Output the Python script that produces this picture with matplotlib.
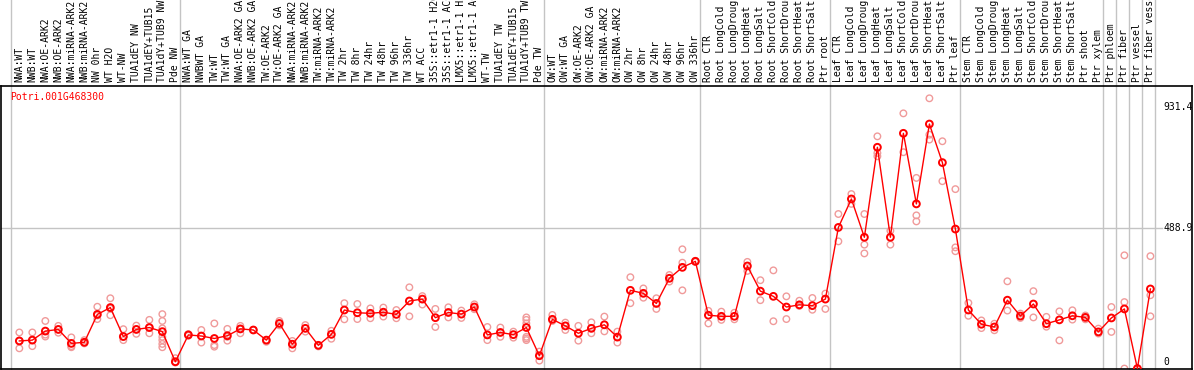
import numpy as np
import matplotlib
matplotlib.use('Agg')
import matplotlib.pyplot as plt
import matplotlib.transforms as mtransforms

# expression profile, Potri.001G468300

samples = ['NWA:WT', 'NWB:WT', 'NWA:OE-ARK2', 'NWB:OE-ARK2', 'NWA:miRNA-ARK2', 'NWB:miRNA-ARK2',
	'NW 0hr', 'WT H2O', 'WT-NW', 'TUA1dEY NW', 'TUA1dEY+TUB15', 'TUA1dY+TUB9 NW', 'Pde NW',
	'NWA:WT GA', 'NWBWT GA', 'TW:WT', 'TW:WT GA', 'NWA:OE-ARK2 GA', 'NWB:OE-ARK2 GA', 'TW:OE-ARK2',
	'TW:OE-ARK2 GA', 'NWA:miRNA-ARK2', 'NWB:miRNA-ARK2', 'TW:miRNA-ARK2', 'TW:miRNA-ARK2',
	'TW 2hr', 'TW 8hr', 'TW 24hr', 'TW 48hr', 'TW 96hr', 'TW 336hr', 'WT ACC',
	'35S::etr1-1 H2O', '35S::etr1-1 ACC', 'LMX5::etr1-1 H2O', 'LMX5::etr1-1 ACC', 'WT-TW',
	'TUA1dEY TW', 'TUA1dEY+TUB15', 'TUA1dY+TUB9 TW', 'Pde TW',
	'OW:WT', 'OW:WT GA', 'OW:OE-ARK2', 'OW:OE-ARK2 GA', 'OW:miRNA-ARK2', 'OW:miRNA-ARK2',
	'OW 2hr', 'OW 8hr', 'OW 24hr', 'OW 48hr', 'OW 96hr', 'OW 336hr',
	'Root CTR', 'Root LongCold', 'Root LongDrought', 'Root LongHeat', 'Root LongSalt',
	'Root ShortCold', 'Root ShortDrought', 'Root ShortHeat', 'Root ShortSalt', 'Ptr root',
	'Leaf CTR', 'Leaf LongCold', 'Leaf LongDrought', 'Leaf LongHeat', 'Leaf LongSalt',
	'Leaf ShortCold', 'Leaf ShortDrought', 'Leaf ShortHeat', 'Leaf ShortSalt', 'Ptr leaf',
	'Stem CTR', 'Stem LongCold', 'Stem LongDrought', 'Stem LongHeat', 'Stem LongSalt',
	'Stem ShortCold', 'Stem ShortDrought', 'Stem ShortHeat', 'Stem ShortSalt', 'Ptr shoot',
	'Ptr xylem', 'Ptr phloem', 'Ptr fiber', 'Ptr vessel', 'Ptr fiber vessel']

means = [77, 80, 113, 119, 68, 72, 174, 199, 93, 119, 126, 111, 1,
	99, 95, 86, 96, 121, 117, 80, 141, 65, 123, 61, 101, 190, 180, 178, 182, 174,
	223, 230, 162, 181, 175, 201, 99, 108, 100, 126, 23,
	156, 132, 105, 123, 136, 91, 262, 251, 214, 306, 346, 368,
	171, 167, 167, 351, 259, 240, 201, 209, 206, 230,
	492, 596, 456, 785, 456, 836, 578, 870, 729, 486,
	190, 138, 128, 226, 168, 212, 140, 154, 169, 163, 110, 161, 194, -24, 267]

reps = [[108, 77, 50], [108, 80, 58], [150, 93, 100], [132, 107, 119], [90, 54, 58],
	[80, 72, 68], [202, 157, 170], [233, 171, 195], [120, 80, 93], [133, 103, 120],
	[154, 105, 125], [175, 150, 123, 92, 80, 66, 54], [14, 0, -2],
	[102, 96], [117, 71, 95], [141, 56, 62], [121, 78, 92], [132, 105, 120], [117, 117],
	[80, 74], [150, 134], [77, 50, 65], [135, 111], [61, 57], [114, 85], [215, 156],
	[212, 157], [196, 160], [199, 166], [190, 160], [273, 167], [241, 210], [194, 128],
	[200, 163], [188, 161], [211, 193], [128, 80], [126, 92], [111, 89],
	[163, 154, 141, 92, 80, 86], [38, 5],
	[172, 150], [144, 117], [132, 78], [145, 105], [166, 112], [111, 71], [310, 215],
	[269, 235], [233, 194], [318, 294], [412, 363, 262], [370, 366],
	[187, 141], [184, 154], [180, 156], [366, 333], [299, 226], [335, 149], [240, 157],
	[224, 205], [234, 191], [250, 194],
	[541, 441], [614, 578], [541, 429, 397], [825, 764, 752], [480, 429], [909, 767],
	[673, 536, 514], [964, 831, 813], [807, 661], [632, 419, 405],
	[216, 169], [152, 124], [140, 116], [295, 188], [177, 161], [259, 163], [165, 129],
	[185, 79], [189, 155], [170, 156], [122, 104], [201, 110], [390, 219, -24],
	[-24, -24], [387, 244, 167]]

group_starts = [0, 13, 41, 53, 63, 73, 84, 85, 86, 87, 88]
ytick_vals = [0, 488.9, 931.4]
ytick_labels = ['0', '488.9', '931.4']
gene = 'Potri.001G468300'

plt.rcParams['font.family'] = 'DejaVu Sans Mono'
fs = 7

fig = plt.figure(figsize=(11.94, 3.70), dpi=100)
ax = fig.add_axes([1/1194, 1/370, 1191/1194, 283/370])

x = np.arange(len(samples))

# replicates
for i, r in enumerate(reps):
	ax.scatter([i]*len(r), r, s=22, facecolors='none', edgecolors='#f09a9a', linewidths=1.0, zorder=2)

ax.plot(x, means, color='red', linewidth=1, zorder=3)
ax.scatter(x, means, s=24, facecolors='none', edgecolors='red', linewidths=1.4, zorder=4)

ax.set_xlim(-1.41, 90.2)
ax.set_ylim(-25.6, 1009)
ax.set_xticks([])
ax.set_yticks([])
for s in ax.spines.values():
	s.set_color('black')
	s.set_linewidth(1.2)

# group separators, running up through the label strip
trans = mtransforms.blended_transform_factory(ax.transData, ax.transAxes)
for g in group_starts:
	ax.plot([g - 0.62, g - 0.62], [0, 1.31], transform=trans, color='#c4c4c4',
		linewidth=1, clip_on=False, zorder=1)

ax.plot([-1.41, 87.9], [488.9, 488.9], color='#c4c4c4', linewidth=1, zorder=1)

for v, lab in zip(ytick_vals, ytick_labels):
	ax.text(87.97, v, lab, fontsize=fs, ha='left', va='center')

for i, lab in enumerate(samples):
	ax.text(i, 1.014, lab, transform=trans, rotation=90, ha='center', va='bottom',
		fontsize=fs, clip_on=False)

ax.text(0.0076, 0.961, gene, transform=ax.transAxes, color='red', fontsize=fs,
	ha='left', va='center')

fig.savefig('out.png', dpi=100)
